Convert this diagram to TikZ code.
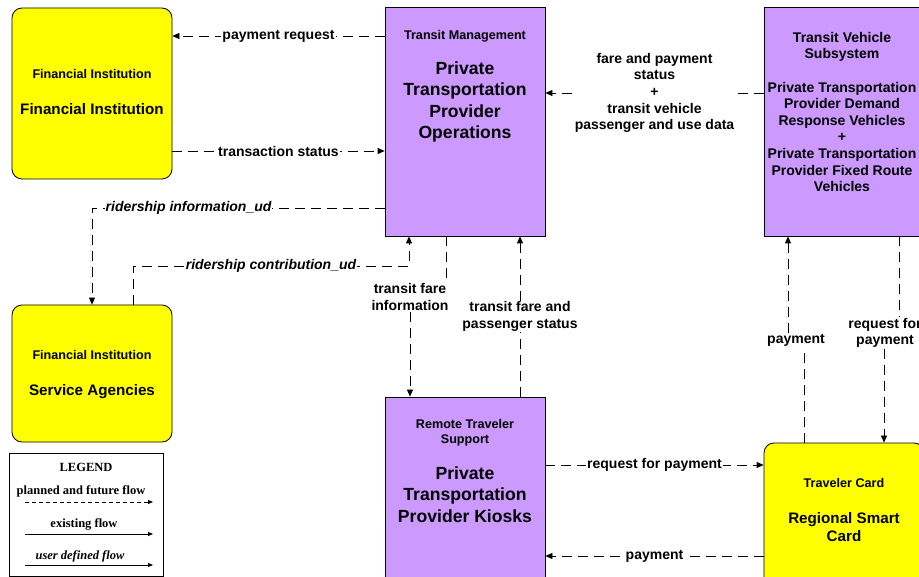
\documentclass[tikz,border=0pt]{standalone}
\usepackage{fontspec}
\setmainfont{Liberation Sans}
\newfontfamily\legendfont{Liberation Serif}
\usetikzlibrary{arrows.meta,positioning}
\definecolor{cardyellow}{RGB}{255,255,0}
\definecolor{termpurple}{RGB}{204,153,255}

\begin{document}
\begin{tikzpicture}[
  x=1pt,y=-1pt,
  ybox/.style={draw,rounded corners=10pt,fill=cardyellow,minimum width=160pt,line width=0.8pt},
  pbox/.style={draw,fill=termpurple,minimum width=160pt,line width=0.8pt},
  head/.style={anchor=north,align=center,inner sep=0pt,font=\fontsize{12.6}{15}\selectfont\bfseries},
  big/.style={anchor=north,align=center,inner sep=0pt,font=\fontsize{17.6}{21.3}\selectfont\bfseries},
  mid/.style={anchor=north,align=center,inner sep=0pt,font=\fontsize{15.2}{18}\selectfont\bfseries},
  vtext/.style={anchor=north,align=center,inner sep=0pt,font=\fontsize{14}{16.6}\selectfont\bfseries},
  flow/.style={-{Triangle[length=7pt,width=6pt]},dash pattern=on 10pt off 6pt,line width=0.8pt},
  flowline/.style={dash pattern=on 10pt off 6pt,line width=0.8pt},
  lab/.style={fill=white,inner sep=1pt,align=center,font=\fontsize{14}{16.7}\selectfont\bfseries},
  udlab/.style={lab,font=\fontsize{14}{16.7}\selectfont\bfseries\itshape},
  legtext/.style={inner sep=0pt,font=\legendfont\fontsize{12.5}{14}\selectfont\bfseries},
  legarrow/.style={-{Triangle[length=5pt,width=4pt]},line width=0.8pt}
]
\clip (0,0) rectangle (919,577);

% terminators and subsystems
\node[ybox,minimum height=171pt] (fi) at (92,93.5) {};
\node[head] (fihead) at (92,69.3) {Financial Institution};
\node[mid] (fibody) at (92,103.4) {Financial Institution};

\node[pbox,minimum height=229pt] (tm) at (465,121.5) {};
\node[head] (tmhead) at (465,30.3) {Transit Management};
\node[big] (tmbody) at (465,61.5) {Private\\Transportation\\Provider\\Operations};

\node[pbox,minimum height=229pt] (tvs) at (844,121.5) {};
\node[vtext] (tvshead) at (842,31.8) {Transit Vehicle\\Subsystem};
\node[vtext] (tvsbody) at (842,81.8) {Private Transportation\\Provider Demand\\Response Vehicles\\+\\Private Transportation\\Provider Fixed Route\\Vehicles};

\node[ybox,minimum height=137pt] (sa) at (92,373.5) {};
\node[head] (sahead) at (92,350.3) {Financial Institution};
\node[mid] (sabody) at (92,384.4) {Service Agencies};

\node[pbox,minimum height=223pt] (rts) at (465,508.5) {};
\node[head] (rtshead) at (465,419.3) {Remote Traveler\\Support};
\node[big] (rtsbody) at (465,466.5) {Private\\Transportation\\Provider Kiosks};

\node[ybox,minimum height=177pt] (tc) at (844,531.5) {};
\node[head] (tchead) at (844,478.3) {Traveler Card};
\node[mid] (tcbody) at (844,512.4) {Regional Smart\\Card};

% flows
\draw[flow] (tm.west |- 0,36) -- node[lab] (lpayreq) {payment request} (fi.east |- 0,36);
\draw[flow] (fi.east |- 0,151) -- node[lab] (ltrans) {transaction status} (tm.west |- 0,151);
\draw[flow] (tm.west |- 0,208) -- node[udlab,pos=0.67] (lridinfo) {ridership information\_ud} (sa.north |- 0,208) -- (sa.north);
\coordinate (rcup) at (133,266);
\coordinate (rcover) at (409,266);
\draw[flow] (sa.north -| rcup) -- (rcup) -- node[udlab] (lridcon) {ridership contribution\_ud} (rcover) -- (tm.south -| rcover);

\node[lab] (lfareinfo) at (410,297) {transit fare\\information};
\draw[flowline] (tm.south -| 446,0) -- (lfareinfo.north -| 446,0);
\draw[flow] (lfareinfo.south) -- (rts.north -| lfareinfo.south);
\draw[flow] (rts.north -| 520,0) -- node[lab] (lfarestat) {transit fare and\\passenger status} (tm.south -| 520,0);
\draw[flow] (tvs.west |- 0,93) -- node[lab] (lfarepay) {fare and payment\\status\\+\\transit vehicle\\passenger and use data} (tm.east |- 0,93);

\node[lab] (lpayup) at (796,340) {payment};
\draw[flowline] (tc.north -| 804,0) -- (lpayup.south -| 804,0);
\draw[flow] (lpayup.north -| 788,0) -- (tvs.south -| 788,0);
\node[lab] (lreqpay) at (885,333) {request for\\payment};
\draw[flowline] (tvs.south -| 899,0) -- (lreqpay.north -| 899,0);
\draw[flow] (lreqpay.south -| 884,0) -- (tc.north -| 884,0);

\draw[flow] (rts.east |- 0,465) -- node[lab] (lreqrts) {request for payment} (tc.west |- 0,465);
\draw[flow] (tc.west |- 0,556) -- node[lab] (lpaydn) {payment} (rts.east |- 0,556);

% legend
\node[draw,fill=white,line width=0.8pt,minimum width=154pt,minimum height=123pt] (legend) at (86,514.5) {};
\node[legtext] (legtitle) at (86,467) {LEGEND};
\node[legtext] (legplan) at (81,491) {planned and future flow};
\draw[legarrow,dash pattern=on 4pt off 3pt] (25,502) -- (153,502);
\node[legtext] (legexist) at (84,524) {existing flow};
\draw[legarrow] (25,534) -- (153,534);
\node[legtext,font=\legendfont\fontsize{12.5}{14}\selectfont\bfseries\itshape] (leguser) at (80,556) {user defined flow};
\draw[legarrow] (25,565) -- (153,565);
\end{tikzpicture}
\end{document}
